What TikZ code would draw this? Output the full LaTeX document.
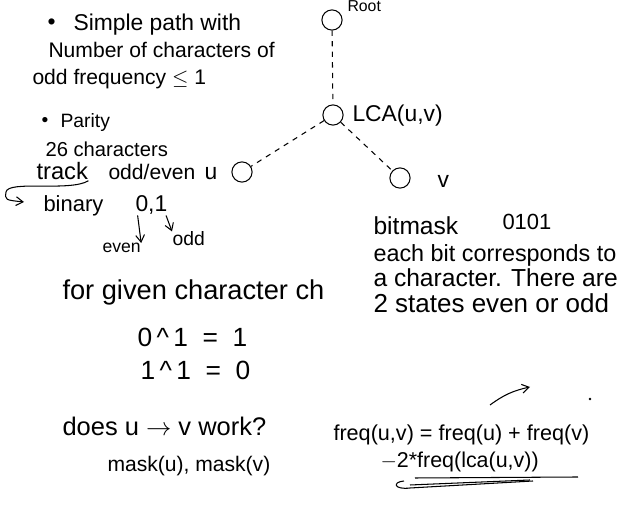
\documentclass[tikz,border=0pt]{standalone}
\usepackage{fontspec}
\setmainfont{Liberation Sans}
\usetikzlibrary{arrows.meta}

\tikzset{
  note/.style={anchor=base west, inner sep=0pt},
  sz/.style={font=\fontsize{#1}{#1}\selectfont},
  vtx/.style={circle, draw, minimum size=11.5pt, inner sep=0pt},
  tree/.style={dash pattern=on 3pt off 3pt},
  hand/.style={-{Straight Barb[length=4pt,width=5pt]}}
}

\begin{document}
\begin{tikzpicture}[x=0.02cm, y=-0.02cm, line width=0.6pt]
\useasboundingbox (0,0) rectangle (630,519);

%tree
\node [vtx] (root) at (332,20) {};
\node [vtx] (lca) at (333,115) {};
\node [vtx] (u) at (242,172) {};
\node [vtx] (v) at (400,178) {};
\node [note,sz=9] (rootlbl) at (347,12) {Root};
\node [note,sz=13] (lcalbl) at (352,122) {LCA(u,v)};
\node [note,sz=13] (ulbl) at (204,180) {u};
\node [note,sz=13] (vlbl) at (437,188) {v};

\draw [tree] (root) -- (lca);
\draw [tree] (lca) -- (u);
\draw [tree] (lca) -- (v);

%odd frequency
\node [note,sz=13] (bulleta) at (47,30) {\textbullet};
\node [note,sz=13] (simple) at (73,31) {Simple path with};
\node [note,sz=12] (number) at (48,58) {Number of characters of};
\node [note,sz=12] (oddfreq) at (32,85) {odd frequency $\leq$ 1};

%parity
\node [note,sz=11] (bulletb) at (41,127) {\textbullet};
\node [note,sz=11] (parity) at (60,128) {Parity};
\node [note,sz=11.5] (chars) at (45,157) {26 characters};
\node [note,sz=13.5] (track) at (36,180) {track};
\node [note,sz=12] (oddeven) at (108,180) {odd/even};
\node [note,sz=12.5] (binary) at (43,212) {binary};
\node [note,sz=13] (bits) at (135,212) {0,1};
\node [note,sz=10] (even) at (102,253) {even};
\node [note,sz=11] (odd) at (172,246) {odd};

\coordinate (binarrow) at (24,202);
\draw [hand] (track.south east) .. controls (70,192) and (8,180) .. (6,192)
  .. controls (5,200) .. (binarrow);
\draw [hand] ([xshift=1.5pt]bits.south west) -- (even.north east);
\draw [hand] ([xshift=-1pt]bits.south east) -- (odd.north west);

%xor
\node [note,sz=15.5] (given) at (62,300) {for given character ch};
\node [note,sz=15] (xorone) at (137,347) {0\,\textasciicircum\,1 \ = \ 1};
\node [note,sz=15] (xorzero) at (140,380) {1\,\textasciicircum\,1 \ = \ 0};

\node [note,sz=14.5] (does) at (62,436) {does u $\rightarrow$ v work?};
\node [note,sz=12] (masks) at (107,472) {mask(u), mask(v)};

%bitmask
\node [note,sz=14] (bitmask) at (373,235) {bitmask};
\node [note,sz=12.5] (mask) at (502,230) {0101};
\node [note,sz=13.3] (eachbit) at (373,262) {each bit corresponds to};
\node [note,sz=14] (achar) at (373,287) {a character. There are};
\node [note,sz=14.8] (states) at (373,313) {2 states even or odd};

%freq
\node [note,sz=12.3] (freq) at (333,441) {freq(u,v) = freq(u) + freq(v)};
\node [note,sz=12.2] (lcafreq) at (380,468) {$-$2*freq(lca(u,v))};

\coordinate (fa) at (490,405);
\coordinate (fb) at (530,387);
\draw [hand] (fa) to [bend left=12] (fb);
\fill (590,399) circle (0.8pt);

\coordinate (ula) at (415,478);
\coordinate (ulb) at (578,477);
\draw (ula) -- (ulb);
\draw (404,481) .. controls (392,482) and (394,490) .. (410,488) -- (533,481);
\draw (410,485) -- (530,480);

\end{tikzpicture}
\end{document}
